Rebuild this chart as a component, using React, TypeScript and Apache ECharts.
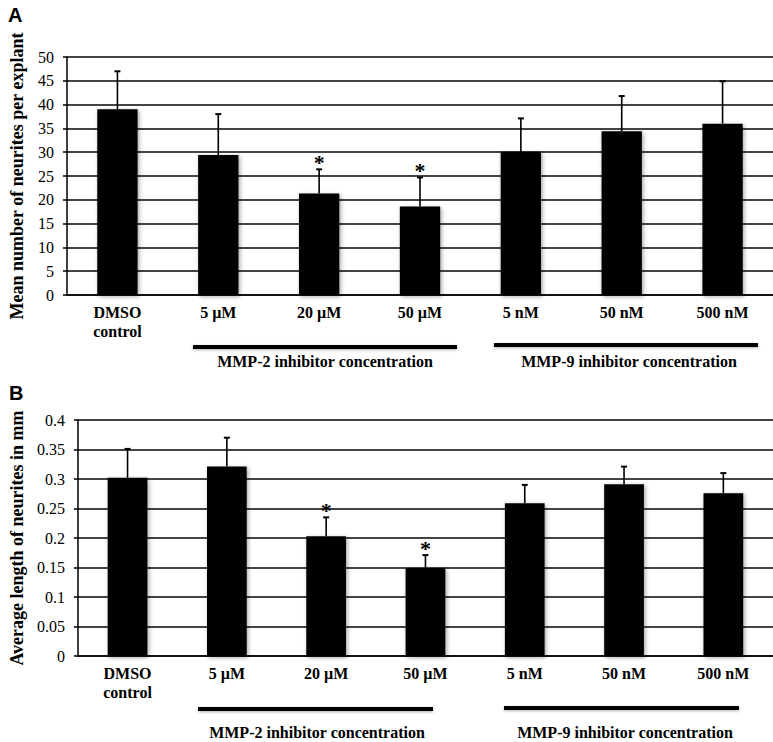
import React, { useEffect, useRef } from "react";
import * as echarts from "echarts";

const categories = ["DMSO\ncontrol", "5 µM", "20 µM", "50 µM", "5 nM", "50 nM", "500 nM"];
const neuriteCount = [39.0, 29.4, 21.3, 18.6, 30.1, 34.4, 36.0];
const neuriteCountErr = [8.0, 8.6, 5.1, 6.1, 7.0, 7.4, 8.9];
const neuriteLength = [0.302, 0.321, 0.203, 0.149, 0.259, 0.291, 0.276];
const neuriteLengthErr = [0.049, 0.049, 0.032, 0.022, 0.031, 0.030, 0.034];
const significant = [false, false, true, true, false, false, false];
const countTicks = { min: 0, max: 50, interval: 5 };
const lengthTicks = { min: 0, max: 0.4, interval: 0.05 };
const groupLabels = ["MMP-2 inhibitor concentration", "MMP-9 inhibitor concentration"];

const SERIF = "Liberation Serif";
const SANS = "Liberation Sans";

function errData(means: number[], errs: number[]) {
  return means.map((m, i) => [i, m, m + errs[i], significant[i] ? 1 : 0]);
}

function renderErr(params: any, api: any) {
  const i = api.value(0);
  const base = api.coord([i, api.value(1)]);
  const top = api.coord([i, api.value(2)]);
  const children: any[] = [
    { type: "line", shape: { x1: base[0], y1: base[1], x2: top[0], y2: top[1] }, style: { stroke: "#000", lineWidth: 1.6 } },
    { type: "line", shape: { x1: top[0] - 3, y1: top[1], x2: top[0] + 3, y2: top[1] }, style: { stroke: "#000", lineWidth: 2 } },
  ];
  if (api.value(3) === 1) {
    children.push({
      type: "text",
      x: top[0],
      y: top[1] - 7,
      style: { text: "*", fontFamily: SERIF, fontSize: 22, fontWeight: "bold", fill: "#000", align: "center", verticalAlign: "middle" },
    });
  }
  return { type: "group", children };
}

export default function App() {
  const ref = useRef<HTMLDivElement>(null);
  useEffect(() => {
    if (!ref.current) return;
    const chart = echarts.init(ref.current, null, { renderer: "svg" });
    const yAxisCommon = (name: string, t: any, gap: number) => ({
      type: "value",
      min: t.min,
      max: t.max,
      interval: t.interval,
      name,
      nameLocation: "middle",
      nameRotate: 90,
      nameGap: gap,
      nameTextStyle: { fontFamily: SERIF, fontSize: 18, fontWeight: "bold", color: "#000" },
      axisLine: { show: true, lineStyle: { color: "#000", width: 1.5 } },
      axisTick: { show: true, length: 4, lineStyle: { color: "#000", width: 1.5 } },
      axisLabel: {
        fontFamily: SERIF,
        fontSize: 16,
        color: "#000",
        margin: 13,
        formatter: (v: number) => String(+v.toFixed(2)),
      },
      splitLine: { show: true, lineStyle: { color: "#444", width: 1.8 } },
    });
    const xAxisCommon = (gi: number) => ({
      type: "category",
      gridIndex: gi,
      data: categories,
      axisLine: { show: true, lineStyle: { color: "#000", width: 1.5 } },
      axisTick: { show: false },
      axisLabel: { fontFamily: SERIF, fontSize: 16, fontWeight: "bold", color: "#000", margin: 8, lineHeight: 19, interval: 0 },
    });
    const barStyle = {
      color: "#000",
      shadowBlur: 4,
      shadowColor: "rgba(0,0,0,0.35)",
      shadowOffsetX: 1.5,
      shadowOffsetY: 1.5,
    };
    const groupLine = (x1: number, x2: number, y: number) => ({
      type: "rect",
      shape: { x: x1, y: y - 2, width: x2 - x1, height: 4 },
      style: { fill: "#000", shadowBlur: 3, shadowColor: "rgba(0,0,0,0.3)", shadowOffsetY: 1 },
    });
    const groupText = (text: string, x: number, y: number) => ({
      type: "text",
      x,
      y,
      style: { text, fontFamily: SERIF, fontSize: 16, fontWeight: "bold", fill: "#000", align: "center", verticalAlign: "middle" },
    });
    chart.setOption({
      animation: false,
      backgroundColor: "#fff",
      grid: [
        { left: 65, top: 57, width: 708, height: 238 },
        { left: 68, top: 420, width: 705, height: 236 },
      ],
      xAxis: [xAxisCommon(0), xAxisCommon(1)],
      yAxis: [
        { ...yAxisCommon("Mean number of neurites per explant", countTicks, 41), gridIndex: 0 },
        { ...yAxisCommon("Average length of neurites in mm", lengthTicks, 48), gridIndex: 1 },
      ],
      series: [
        { type: "bar", xAxisIndex: 0, yAxisIndex: 0, data: neuriteCount, barWidth: "40%", itemStyle: barStyle },
        { type: "custom", xAxisIndex: 0, yAxisIndex: 0, data: errData(neuriteCount, neuriteCountErr), renderItem: renderErr, encode: { x: 0, y: 2 }, z: 3 },
        { type: "bar", xAxisIndex: 1, yAxisIndex: 1, data: neuriteLength, barWidth: "40%", itemStyle: barStyle },
        { type: "custom", xAxisIndex: 1, yAxisIndex: 1, data: errData(neuriteLength, neuriteLengthErr), renderItem: renderErr, encode: { x: 0, y: 2 }, z: 3 },
      ],
      graphic: [
        { type: "text", x: 8, y: 15, style: { text: "A", fontFamily: SANS, fontSize: 20, fontWeight: "bold", fill: "#000", verticalAlign: "middle" } },
        { type: "text", x: 9, y: 393, style: { text: "B", fontFamily: SANS, fontSize: 20, fontWeight: "bold", fill: "#000", verticalAlign: "middle" } },
        groupLine(193, 457, 347),
        groupLine(494, 758, 345),
        groupText(groupLabels[0], 325, 361),
        groupText(groupLabels[1], 629, 361),
        groupLine(198, 433, 709),
        groupLine(504, 739, 708),
        groupText(groupLabels[0], 317, 732),
        groupText(groupLabels[1], 625, 732),
      ],
    });
    return () => chart.dispose();
  }, []);
  return <div ref={ref} style={{ position: "absolute", left: 0, top: 0, width: 773, height: 742 }} />;
}
